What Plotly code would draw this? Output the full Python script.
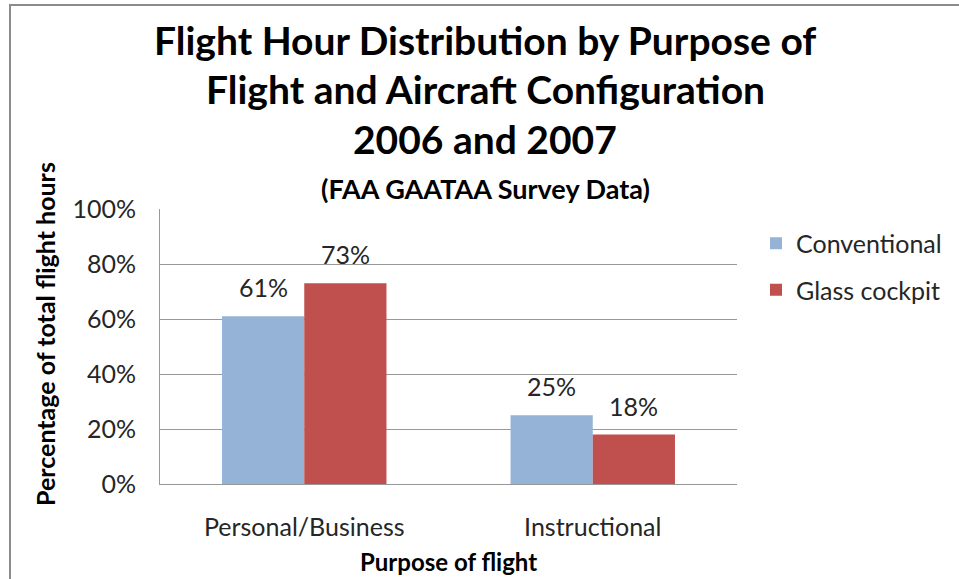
import plotly.graph_objects as go

categories = ["Personal/Business", "Instructional"]
conventional = [0.61, 0.25]
glass_cockpit = [0.73, 0.18]
series_names = ["Conventional", "Glass cockpit"]
y_ticks = [0, 0.2, 0.4, 0.6, 0.8, 1.0]

title_lines = ["Flight Hour Distribution by Purpose of",
               "Flight and Aircraft Configuration",
               "2006 and 2007"]
subtitle = "(FAA GAATAA Survey Data)"

FONT = "Lato"
colors = ["#95b3d7", "#c0504d"]
BARGAP = 0.43

W, H = 959, 579
L, R, T, B = 160, 222, 209, 95
PW, PH = W - L - R, H - T - B


def px_x(p):
    return (p - L) / PW


def px_y(p):
    return (H - B - p) / PH


fig = go.Figure()
for name, vals, col in zip(series_names, [conventional, glass_cockpit], colors):
    fig.add_trace(go.Bar(
        name=name, x=categories, y=vals, marker_color=col,
        marker_line_width=0, legendgroup=name,
    ))

annotations = []
offset = (1 - BARGAP) / 4
for si, vals in enumerate([conventional, glass_cockpit]):
    for ci, v in enumerate(vals):
        annotations.append(dict(
            x=ci + (offset if si == 1 else -offset), y=v, xref="x", yref="y",
            text=f"{round(v * 100)}%", showarrow=False, yanchor="bottom",
            yshift=12, font=dict(family=FONT, size=25, color="#262626"),
        ))

title_y = [40, 89, 139]
for line, yy in zip(title_lines, title_y):
    annotations.append(dict(
        x=px_x(485), y=px_y(yy), xref="paper", yref="paper", text=f"<b>{line}</b>",
        showarrow=False, xanchor="center", yanchor="middle",
        font=dict(family=FONT, size=39, color="#000"),
    ))
annotations.append(dict(
    x=px_x(485), y=px_y(188), xref="paper", yref="paper", text=f"<b>{subtitle}</b>",
    showarrow=False, xanchor="center", yanchor="middle",
    font=dict(family=FONT, size=27, color="#000"),
))
annotations.append(dict(
    x=px_x(448), y=px_y(561), xref="paper", yref="paper", text="<b>Purpose of flight</b>",
    showarrow=False, xanchor="center", yanchor="middle",
    font=dict(family=FONT, size=24, color="#000"),
))
annotations.append(dict(
    x=px_x(45), y=px_y(334), xref="paper", yref="paper",
    text="<b>Percentage of total flight hours</b>", textangle=-90,
    showarrow=False, xanchor="center", yanchor="middle",
    font=dict(family=FONT, size=25, color="#000"),
))

shapes = [
    dict(type="line", xref="paper", yref="paper", x0=px_x(10), x1=px_x(1000),
         y0=px_y(5), y1=px_y(5), line=dict(color="#8c8c8c", width=2)),
    dict(type="line", xref="paper", yref="paper", x0=px_x(10), x1=px_x(10),
         y0=px_y(4), y1=px_y(620), line=dict(color="#8c8c8c", width=2)),
]

fig.update_layout(
    width=W, height=H,
    margin=dict(l=L, r=R, t=T, b=B, autoexpand=False),
    paper_bgcolor="white", plot_bgcolor="white",
    barmode="group", bargap=BARGAP, bargroupgap=0,
    font=dict(family=FONT, size=25, color="#262626"),
    showlegend=True,
    legend=dict(x=px_x(756), y=px_y(266.5), xanchor="left", yanchor="middle",
                font=dict(family=FONT, size=25, color="#262626"),
                tracegroupgap=11, traceorder="grouped", bgcolor="rgba(0,0,0,0)"),
    annotations=annotations, shapes=shapes,
)
fig.update_xaxes(showline=True, linecolor="#999", linewidth=1, ticks="",
                 ticklabelstandoff=21, tickfont=dict(family=FONT, size=25, color="#262626"))
fig.update_yaxes(range=[0, 1], tickvals=y_ticks, tickformat=".0%",
                 showgrid=True, gridcolor="#999", gridwidth=1,
                 showline=True, linecolor="#999", linewidth=1, ticks="",
                 zeroline=False, ticklabelstandoff=18,
                 tickfont=dict(family=FONT, size=25, color="#262626"))

fig.write_html("out.html", config={"displayModeBar": False},
               post_script="document.body.style.margin='0';")
